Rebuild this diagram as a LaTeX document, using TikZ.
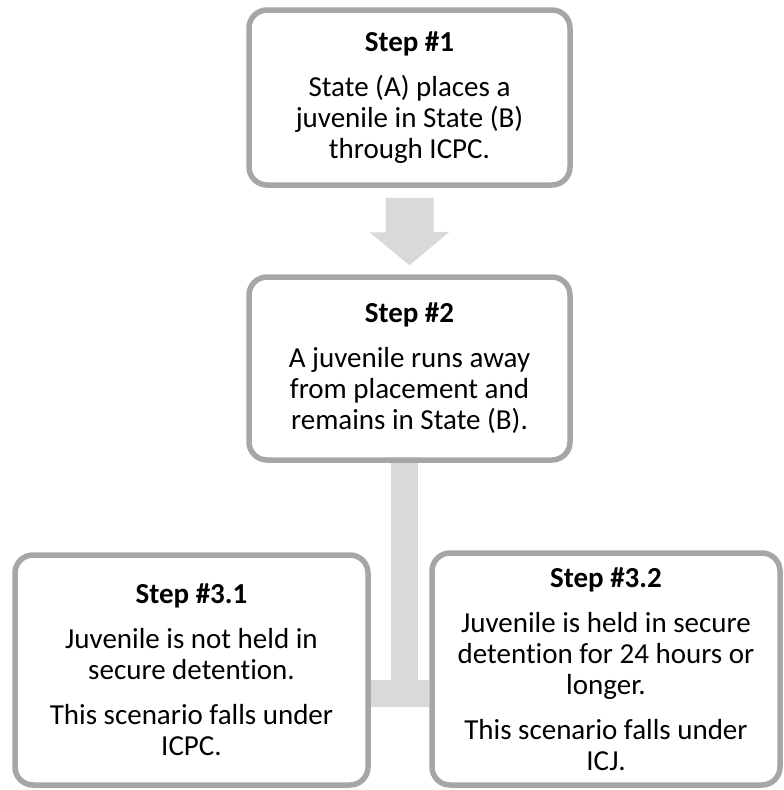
\documentclass[tikz,border=0pt]{standalone}
\usepackage{fontspec}
\setmainfont[Ligatures=NoCommon]{Carlito}
\usetikzlibrary{backgrounds,calc}
\definecolor{boxline}{HTML}{A6A6A6}
\definecolor{linkfill}{HTML}{D9D9D9}
\tikzset{
  stepbox/.style={draw=boxline, line width=5.5pt, fill=white, rounded corners=18pt,
    align=center, inner sep=0pt, font=\fontsize{29}{31}\selectfont},
  branch/.style={draw=linkfill, line width=27pt}
}
\begin{document}
\begin{tikzpicture}[x=1pt,y=-1pt]
\useasboundingbox (0,0) rectangle (784,790);

\node[stepbox, minimum width=321pt, minimum height=175pt] (step1) at (409.5,97.5)
  {\textbf{Step \#1}\\[14pt] State (A) places a\\ juvenile in State (B)\\ through ICPC.};
\node[stepbox, minimum width=321pt, minimum height=183pt] (step2) at (409.5,368.5)
  {\textbf{Step \#2}\\[14pt] A juvenile runs away\\ from placement and\\ remains in State (B).};

\node[stepbox, minimum width=353pt, minimum height=230pt] (step31) at (191.5,670)
  {\textbf{Step \#3.1}\\[14pt] Juvenile is not held in\\ secure detention.\\[14pt]
   This scenario falls under\\ ICPC.};
\node[stepbox, minimum width=348pt, minimum height=232pt] (step32) at (606,669)
  {\textbf{Step \#3.2}\\[14pt] Juvenile is held in secure\\ detention for 24 hours or\\ longer.\\[14pt]
   This scenario falls under\\ ICJ.};

% arrow between the first two steps
\fill[linkfill] ($(step1.south)+(-24,10)$) -- ++(48,0) -- ++(0,34) -- ++(16,0)
  -- ($(step2.north)+(0,-9)$) -- ++(-40,-33) -- ++(16,0) -- cycle;

% split to the two outcomes
\coordinate (fork) at (404.5,693.5);
\begin{scope}[on background layer]
\draw[branch] (step2.south -| fork) -- ([yshift=-13.5pt]fork);
\draw[branch] (step31.east |- fork) -- (step32.west |- fork);
\end{scope}
\end{tikzpicture}
\end{document}
